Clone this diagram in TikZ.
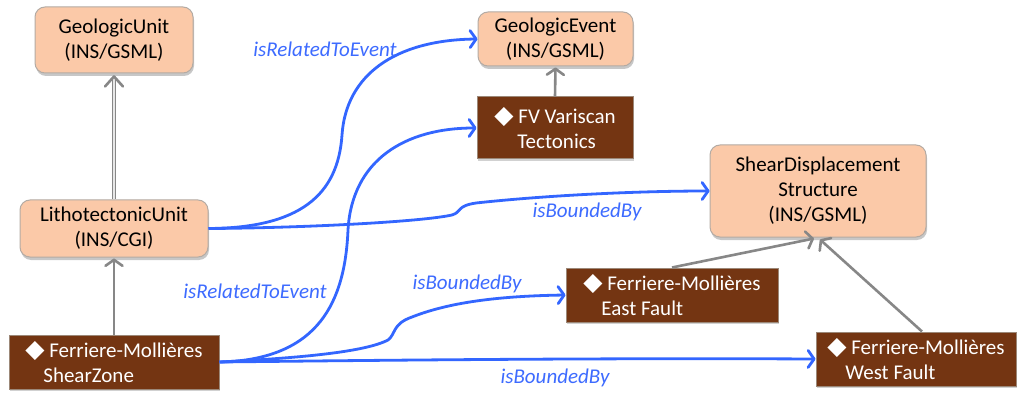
\documentclass[tikz,border=0pt]{standalone}
\usepackage{fontspec}
\setmainfont{Carlito}
\newfontfamily\symfont{DejaVu Sans}
\usetikzlibrary{arrows.meta,shadows}

\definecolor{peach}{HTML}{FBC9A8}
\definecolor{peachedge}{HTML}{B4ABA4}
\definecolor{brownfill}{HTML}{743512}
\definecolor{brownedge}{HTML}{9C8878}
\definecolor{isagray}{HTML}{878787}
\definecolor{relblue}{HTML}{3366FF}
\definecolor{labelblue}{HTML}{3D6BFF}

\newcommand{\bullitem}{\makebox[24pt][l]{\raisebox{0.5pt}{\symfont\fontsize{25}{25}\selectfont ◆}}}

\tikzset{
  txt/.style={font=\fontsize{21}{25}\selectfont},
  classbox/.style={txt, draw=peachedge, line width=1pt, fill=peach,
    rounded corners=10pt, align=center, inner sep=0pt,
    drop shadow={shadow xshift=1pt, shadow yshift=-3pt, opacity=0.22, fill=black}},
  instbox/.style={txt, draw=brownedge, line width=1pt, fill=brownfill,
    text=white, align=left, inner sep=0pt,
    drop shadow={shadow xshift=1pt, shadow yshift=-2pt, opacity=0.18, fill=black}},
  isa/.style={draw=isagray, line width=2.6pt,
    -{Straight Barb[length=6pt,width=17pt,line cap=round,line join=round]}},
  rel/.style={draw=relblue, line width=2.8pt,
    -{Straight Barb[length=6pt,width=17pt,line cap=round,line join=round]}},
  rellabel/.style={txt, text=labelblue, font=\fontsize{21}{25}\selectfont\itshape, inner sep=0pt}
}

\begin{document}
\begin{tikzpicture}[x=1pt,y=-1pt]
  \fill[white] (0,0) rectangle (1018,393);
  \useasboundingbox (0,0) rectangle (1018,393);

  % classes
  \node[classbox, minimum width=158pt, minimum height=66pt] (gu) at (114,40)
    {GeologicUnit\\(INS/GSML)};
  \node[classbox, minimum width=155pt, minimum height=54pt] (ge) at (555.5,39)
    {GeologicEvent\\(INS/GSML)};
  \node[classbox, minimum width=188pt, minimum height=57pt] (lu) at (114,228.5)
    {LithotectonicUnit\\(INS/CGI)};
  \node[classbox, minimum width=216pt, minimum height=92pt] (sd) at (818,191)
    {ShearDisplacement\\Structure\\(INS/GSML)};

  % instances
  \node[instbox, minimum width=156pt, minimum height=62pt] (fv) at (555,128)
    {\bullitem FV Variscan\\\hspace*{23pt}Tectonics};
  \node[instbox, minimum width=210pt, minimum height=54pt] (sz) at (114,362)
    {\bullitem Ferriere-Mollières\\\hspace*{18pt}ShearZone};
  \node[instbox, minimum width=212pt, minimum height=54pt] (ef) at (672,295)
    {\bullitem Ferriere-Mollières\\\hspace*{18pt}East Fault};
  \node[instbox, minimum width=200pt, minimum height=54pt] (wf) at (916,359)
    {\bullitem Ferriere-Mollières\\\hspace*{18pt}West Fault};

  % specialisation (double shaft with open head)
  \draw[draw=isagray, line width=1.3pt, double=white!80!isagray, double distance=2.2pt]
    (lu.north) -- ([yshift=-4pt]gu.south);
  \draw[isagray, line width=2.6pt, line cap=round, line join=round]
    ([xshift=-9pt,yshift=-13pt]gu.south) -- ([yshift=-3pt]gu.south)
    -- ([xshift=9pt,yshift=-13pt]gu.south);

  % instance-of links
  \draw[isa] (sz.north) -- ([yshift=-1pt]lu.south);
  \draw[isa] (fv.north) -- ([yshift=-1pt]ge.south);
  \draw[isa] (ef.north) -- ([xshift=-4pt,yshift=-1pt]sd.south);
  \draw[isa] ([xshift=6pt]wf.north) -- ([xshift=2pt,yshift=-2pt]sd.south);

  % relations
  \draw[rel] (lu.east) .. controls (300,228) and (338,195) .. (342,135)
    .. controls (346,75) and (395,40) .. (ge.west);
  \draw[rel] (sz.east) .. controls (320,360) and (345,300) .. (348,230)
    .. controls (352,160) and (405,128) .. (fv.west);
  \draw[rel] (lu.east) .. controls (300,228) and (420,222) .. (452,215)
    .. controls (462,212) and (456,206) .. (476,203)
    .. controls (550,195) and (640,191) .. (sd.west);
  \draw[rel] (sz.east) .. controls (300,358) and (365,352) .. (388,340)
    .. controls (396,334) and (392,324) .. (412,317)
    .. controls (450,302) and (500,296) .. (ef.west);
  \draw[rel] (sz.east) .. controls (400,360) and (600,358) .. (wf.west);

  % relation labels
  \node[rellabel] (l1) at (325,49) {isRelatedToEvent};
  \node[rellabel] (l2) at (255,291) {isRelatedToEvent};
  \node[rellabel] (l3) at (587,212) {isBoundedBy};
  \node[rellabel] (l4) at (467,284) {isBoundedBy};
  \node[rellabel] (l5) at (555,378) {isBoundedBy};
\end{tikzpicture}
\end{document}
